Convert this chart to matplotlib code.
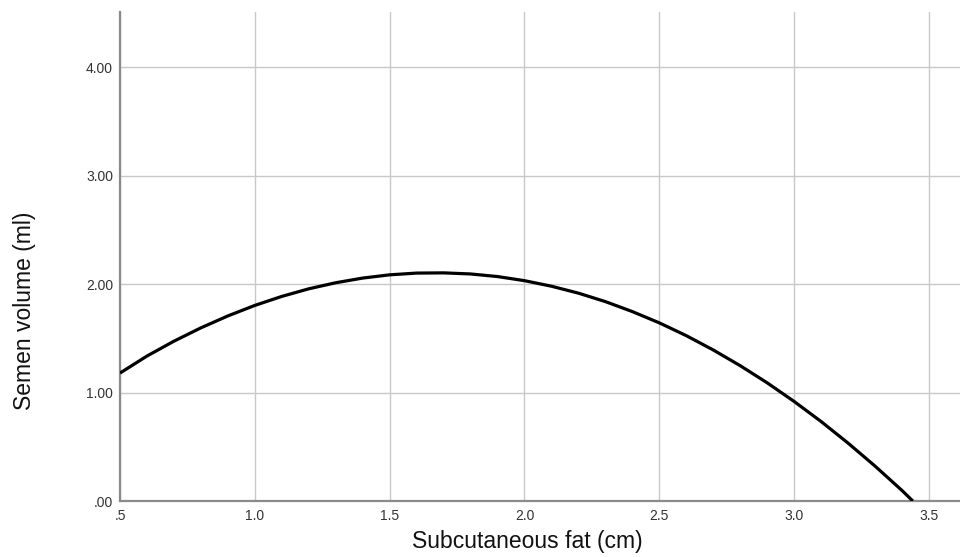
import numpy as np
import matplotlib.pyplot as plt

plt.rcParams['font.family'] = ['Liberation Sans', 'DejaVu Sans']

# quadratic fit line, sampled along subcutaneous fat
fat_cm = [0.5, 0.6, 0.7, 0.8, 0.9, 1.0, 1.1, 1.2, 1.3, 1.4, 1.5, 1.6, 1.7,
          1.8, 1.9, 2.0, 2.1, 2.2, 2.3, 2.4, 2.5, 2.6, 2.7, 2.8, 2.9, 3.0,
          3.1, 3.2, 3.3, 3.4, 3.44]
volume_ml = [1.18, 1.337, 1.474, 1.597, 1.707, 1.804, 1.887, 1.957, 2.013,
             2.056, 2.086, 2.102, 2.104, 2.094, 2.070, 2.032, 1.981, 1.917,
             1.839, 1.747, 1.643, 1.525, 1.393, 1.248, 1.090, 0.918, 0.733,
             0.534, 0.322, 0.097, 0.0]

xticks = [0.5, 1.0, 1.5, 2.0, 2.5, 3.0, 3.5]
xtick_labels = ['.5', '1.0', '1.5', '2.0', '2.5', '3.0', '3.5']
yticks = [0, 1, 2, 3, 4]
ytick_labels = ['.00', '1.00', '2.00', '3.00', '4.00']

fig = plt.figure(figsize=(9.6, 5.57), dpi=100)
ax = fig.add_axes([0.125, 0.1005, 0.875, 0.878])

ax.plot(fat_cm, volume_ml, color='black', lw=2.3, solid_capstyle='butt', zorder=3)

ax.set_xlim(0.5, 3.615)
ax.set_ylim(0, 4.51)
ax.set_xticks(xticks)
ax.set_xticklabels(xtick_labels)
ax.set_yticks(yticks)
ax.set_yticklabels(ytick_labels)

ax.grid(True, color='#c8c8c8', lw=1.0)
ax.set_axisbelow(True)
for s in ['top', 'right']:
    ax.spines[s].set_visible(False)
for s in ['left', 'bottom']:
    ax.spines[s].set_color('#8a8a8a')
    ax.spines[s].set_linewidth(1.6)

ax.tick_params(length=0, labelsize=10, colors='#333333')
ax.tick_params(axis='x', pad=6)
ax.tick_params(axis='y', pad=5)

# axis titles placed on the figure
fig.text(527 / 960, 0.016, 'Subcutaneous fat (cm)', fontsize=16.5,
         color='#111111', ha='center', va='baseline')
fig.text(0.026, 0.442, 'Semen volume (ml)', fontsize=16.5, color='#111111',
         rotation=90, ha='center', va='center')

fig.savefig('out.png', dpi=100)
